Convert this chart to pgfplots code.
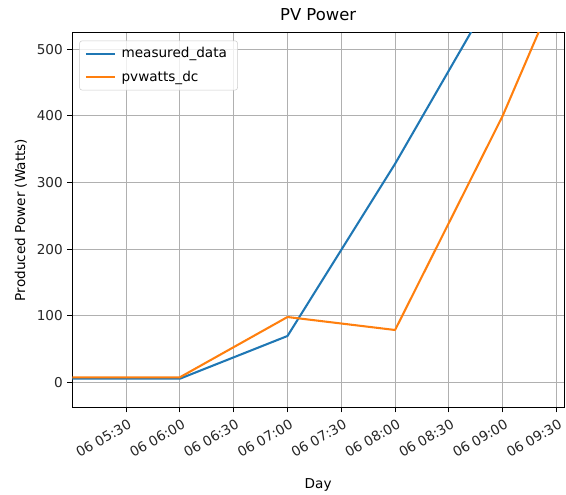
\documentclass[border=0pt]{standalone}
\usepackage{fontspec}
\setmainfont{DejaVu Sans}
\usepackage{pgfplots}
\pgfplotsset{compat=1.18}

\definecolor{mplblue}{HTML}{1F77B4}
\definecolor{mplorange}{HTML}{FF7F0E}
\definecolor{gridgray}{HTML}{B0B0B0}

\begin{document}
\begin{tikzpicture}
% fixed page frame around the 368.8pt x 281.5pt plot area
\useasboundingbox (-54.2pt,-65.5pt) rectangle (370.3pt,305.7pt);
\begin{axis}[
  scale only axis,
  width=368.8pt, height=281.5pt,
  xmin=5.0, xmax=9.57,
  ymin=-38, ymax=525.5,
  xtick={5.5,6,6.5,7,7.5,8,8.5,9,9.5},
  xticklabels={06 05:30,06 06:00,06 06:30,06 07:00,06 07:30,06 08:00,06 08:30,06 09:00,06 09:30},
  ytick={0,100,200,300,400,500},
  /pgf/number format/assume math mode=true,
  tick label style={font=\fontsize{10.2pt}{12pt}\selectfont, text=black!85},
  x tick label style={rotate=30, anchor=north east, xshift=2pt, yshift=-1pt},
  tick align=outside,
  major tick length=3.6pt,
  tick style={black, line width=0.6pt},
  xtick pos=bottom, ytick pos=left,
  axis line style={black, line width=0.6pt},
  grid=major,
  major grid style={gridgray, line width=0.75pt},
  title={PV Power},
  title style={font=\fontsize{12.3pt}{14pt}\selectfont, yshift=-1pt},
  xlabel={Day},
  ylabel={Produced Power (Watts)},
  label style={font=\fontsize{10.2pt}{12pt}\selectfont},
  xlabel style={yshift=-7pt},
  ylabel style={yshift=0.5pt},
  legend cell align=left,
  legend style={
    at={(0.0142,0.978)}, anchor=north west,
    draw=black!20, rounded corners=2pt, fill=white, fill opacity=0.8, text opacity=1,
    font=\fontsize{10.2pt}{12pt}\selectfont,
    inner xsep=4pt, inner ysep=3pt,
    row sep=4.5pt,
    nodes={inner xsep=4pt},
  },
  legend image code/.code={\draw[#1] (0pt,0pt) -- (22pt,0pt);},
  every axis plot/.append style={line width=1.55pt, line join=round},
  clip=true,
]
\addplot[mplblue] coordinates {
  (5,5.4) (6,5.4) (7,69.5) (8,328) (9,608) (10,890)
};
\addlegendentry{measured\_data}
\addplot[mplorange] coordinates {
  (5,7.5) (6,7.5) (7,98) (8,78.5) (9,400) (10,776)
};
\addlegendentry{pvwatts\_dc}
\end{axis}
\end{tikzpicture}
\end{document}
